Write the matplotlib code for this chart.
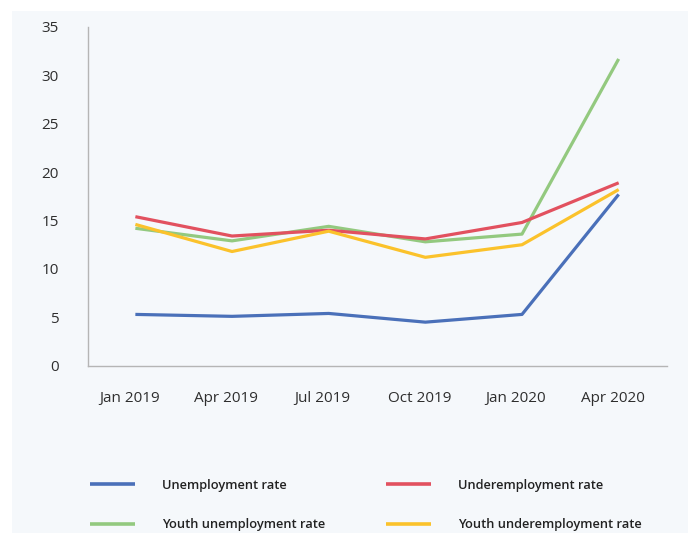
import matplotlib
matplotlib.use("Agg")
import matplotlib.pyplot as plt
from matplotlib.patches import Rectangle
from matplotlib.transforms import ScaledTranslation

plt.rcParams['font.family'] = ['Open Sans', 'DejaVu Sans']

quarters = ['Jan 2019', 'Apr 2019', 'Jul 2019', 'Oct 2019', 'Jan 2020', 'Apr 2020']
unemployment = [5.3, 5.1, 5.4, 4.5, 5.3, 17.7]
underemployment = [15.4, 13.4, 14.0, 13.1, 14.8, 18.9]
youth_unemployment = [14.2, 12.9, 14.4, 12.8, 13.6, 31.7]
youth_underemployment = [14.6, 11.8, 13.9, 11.2, 12.5, 18.2]

series = [
    ('Unemployment rate', unemployment, '#4a70b9'),
    ('Youth unemployment rate', youth_unemployment, '#93c97f'),
    ('Underemployment rate', underemployment, '#e2515f'),
    ('Youth underemployment rate', youth_underemployment, '#fbc22b'),
]

fig = plt.figure(figsize=(6.88, 5.33), dpi=100)
fig.patch.set_facecolor('white')
# light panel behind the chart
fig.patches.append(Rectangle((12 / 688, 0), 1, 1 - 11 / 533, transform=fig.transFigure,
                             facecolor='#f5f8fb', edgecolor='none', zorder=-1))

ax = fig.add_axes([88 / 688, 1 - 365.7 / 533, (667 - 88) / 688, (365.7 - 27) / 533])
ax.set_facecolor('none')

x = list(range(len(quarters)))
handles = []
for name, vals, col in series:
    h, = ax.plot(x, vals, color=col, lw=2.3, label=name, solid_capstyle='butt')
    handles.append(h)

ax.set_xlim(-0.49, 5.5)
ax.set_ylim(0, 35)
ax.set_yticks(range(0, 36, 5))
ax.set_xticks(x)
ax.set_xticklabels(quarters)
ax.tick_params(length=0, labelsize=11, colors='#2e2e2e')
ax.tick_params(axis='y', pad=21)
ax.tick_params(axis='x', pad=18)
# labels in the original sit a little left of their points
shift = ScaledTranslation(-6 / 100, 0, fig.dpi_scale_trans)
for lab in ax.get_xticklabels():
    lab.set_transform(lab.get_transform() + shift)
for s in ['top', 'right']:
    ax.spines[s].set_visible(False)
for s in ['left', 'bottom']:
    ax.spines[s].set_color('#b5b5b5')
    ax.spines[s].set_linewidth(1.0)

leg = fig.legend(handles=handles, ncol=2, loc='upper left',
                 bbox_to_anchor=(78 / 688, 1 - 467 / 533),
                 frameon=False, handlelength=3.5, handletextpad=2.1,
                 columnspacing=4.7, labelspacing=2.05,
                 prop={'weight': 'semibold', 'size': 9.3})
for t in leg.get_texts():
    t.set_color('#222222')
for l in leg.get_lines():
    l.set_linewidth(2.6)

fig.savefig('out.png', dpi=100)
